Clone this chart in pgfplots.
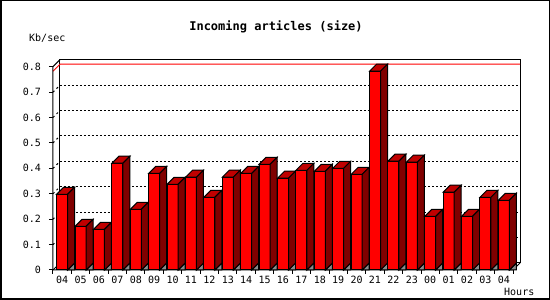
\documentclass[border=0pt]{standalone}
\usepackage{pgfplots}
\usepackage{pgfplotstable}
\pgfplotsset{compat=1.18}
\usepackage{fontspec}
\setmainfont{DejaVu Sans}
\newfontfamily\monof{DejaVu Sans Mono}
\definecolor{frontred}{RGB}{255,0,0}
\definecolor{topred}{RGB}{192,0,0}
\definecolor{sidered}{RGB}{128,0,0}
\definecolor{floorgray}{RGB}{140,140,140}

\pgfplotstableread{
x val
0 0.298
1 0.172
2 0.160
3 0.420
4 0.239
5 0.380
6 0.337
7 0.365
8 0.286
9 0.365
10 0.380
11 0.416
12 0.361
13 0.392
14 0.388
15 0.400
16 0.376
17 0.782
18 0.428
19 0.424
20 0.211
21 0.306
22 0.211
23 0.286
24 0.274
}\datatable

\pgfdeclareplotmark{bar3d}{%
  \pgfmathsetmacro\hh{\pgfplotspointmetatransformed*0.2541667}%
  \pgfmathsetmacro\hs{\hh-7}%
  \filldraw[fill=floorgray,draw=black,line width=1pt,line join=miter]
    (5.5pt,-\hh pt) -- (12.5pt,-\hs pt) -- (12.5pt,-\hh pt) -- cycle;
  \filldraw[fill=frontred,draw=black,line width=1pt]
    (-5.5pt,-\hh pt) rectangle (5.5pt,0pt);
  \filldraw[fill=topred,draw=black,line width=1pt,line join=miter]
    (-5.5pt,0pt) -- (1.5pt,7pt) -- (12.5pt,7pt) -- (5.5pt,0pt) -- cycle;
  \filldraw[fill=sidered,draw=black,line width=1pt,line join=miter]
    (5.5pt,0pt) -- (12.5pt,7pt) -- (12.5pt,-\hs pt) -- (5.5pt,-\hh pt) -- cycle;
}

\begin{document}
\begin{tikzpicture}
\useasboundingbox (0,0) rectangle (550pt,300pt);
\fill[white] (0,0) rectangle (550pt,300pt);
\begin{axis}[
  at={(53pt,30pt)}, anchor=south west,
  scale only axis, width=460pt, height=203.3333pt,
  xmin=-0.5, xmax=24.5, ymin=0, ymax=0.8,
  clip=false,
  axis line style={draw=none},
  tick pos=left,
  tick align=outside,
  major tick length=4pt,
  tick style={black, line width=1pt},
  xtick={-0.5,0.5,...,24.5},
  xticklabels={},
  extra x ticks={0,1,...,24},
  extra x tick labels={04,05,06,07,08,09,10,11,12,13,14,15,16,17,18,19,20,21,22,23,00,01,02,03,04},
  extra x tick style={major tick length=0pt},
  ytick={0,0.1,0.2,0.3,0.4,0.5,0.6,0.7,0.8},
  yticklabels={0,0.1,0.2,0.3,0.4,0.5,0.6,0.7,0.8},
  ticklabel style={font=\monof\fontsize{10}{11}\selectfont, black},
  yticklabel style={xshift=-4.5pt},
  xticklabel style={yshift=-3pt},
]
% back wall frame
\draw[black, line width=1pt] ([shift={(7pt,7pt)}]axis cs:-0.5,0) rectangle ([shift={(7pt,7pt)}]axis cs:24.5,0.8);
% grid lines on back wall and left wall
\pgfplotsinvokeforeach{0.1,0.2,0.3,0.4,0.5,0.6,0.7}{
  \draw[black, line width=1pt, dash pattern=on 2pt off 2pt]
    ([shift={(7pt,7pt)}]axis cs:-0.5,#1) -- ([shift={(7pt,7pt)}]axis cs:24.5,#1);
  \draw[black, line width=1pt, dash pattern=on 2pt off 3pt]
    (axis cs:-0.5,#1) -- ([shift={(7pt,7pt)}]axis cs:-0.5,#1);
}
% maximum line
\draw[red, line width=1pt] (axis cs:-0.5,0.782) -- ([shift={(7pt,7pt)}]axis cs:-0.5,0.782) -- ([shift={(7pt,7pt)}]axis cs:24.5,0.782);
% front frame
\draw[black, line width=1pt] ([shift={(7pt,7pt)}]axis cs:-0.5,0.8) -- (axis cs:-0.5,0.8) -- (axis cs:-0.5,0) -- (axis cs:24.5,0) -- ([shift={(7pt,7pt)}]axis cs:24.5,0);
\draw[black, line width=1pt] (axis cs:-0.5,0) -- ([shift={(7pt,7pt)}]axis cs:-0.5,0);
% bars
\addplot[scatter, only marks, mark=bar3d,
  point meta=y, point meta min=0, point meta max=1]
  table[x=x, y=val] {\datatable};
\end{axis}
\draw[black, line width=1.5pt] (0.75pt,0.75pt) rectangle (549.25pt,299.25pt);
\node[font=\monof\bfseries\fontsize{12}{14}\selectfont, inner sep=0pt] at (276pt,273.3pt) {Incoming articles (size)};
\node[font=\monof\fontsize{10}{11}\selectfont, anchor=west, inner sep=0pt] at (29pt,261.7pt) {Kb/sec};
\node[font=\monof\fontsize{10}{11}\selectfont, anchor=east, inner sep=0pt] at (534.5pt,7.7pt) {Hours};
\end{tikzpicture}
\end{document}
